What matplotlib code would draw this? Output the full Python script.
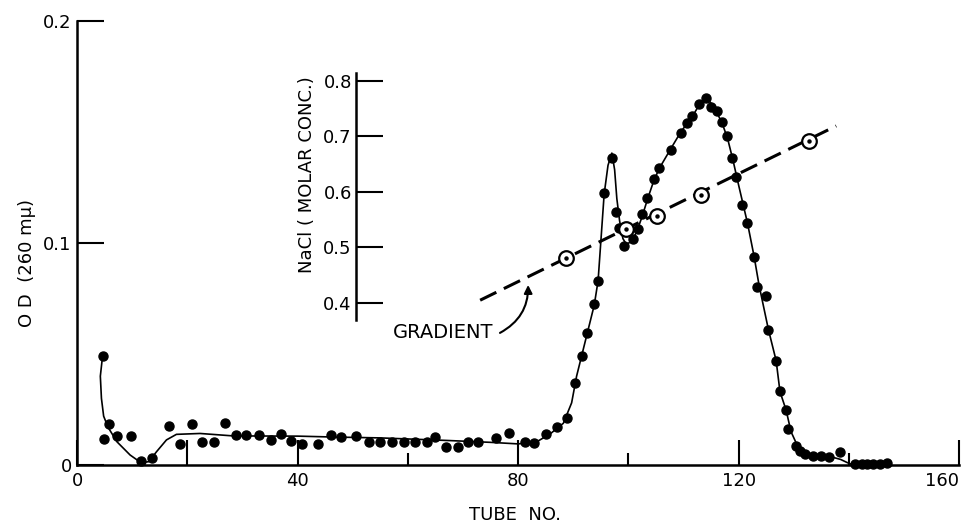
import matplotlib
matplotlib.use("Agg")
import matplotlib.pyplot as plt

plt.rcParams['font.family'] = ['DejaVu Sans']
plt.rcParams['lines.scale_dashes'] = False

# ---- data ----
tube = [4.6, 4.9, 5.8, 7.3, 9.8, 11.6, 13.6, 16.7, 18.6, 20.8, 22.7, 24.9, 26.9, 28.8,
        30.6, 33.0, 35.1, 37.0, 38.7, 40.7, 43.6, 46.0, 47.9, 50.6, 52.9, 55.0, 57.2,
        59.3, 61.3, 63.4, 65.0, 66.9, 69.0, 70.9, 72.8, 75.9, 78.4, 81.2, 82.9, 85.0,
        87.0, 88.8, 90.3, 91.5, 92.5, 93.8, 94.5, 95.6, 97.1, 97.7, 98.3, 99.2, 100.8,
        101.8, 102.4, 103.3, 104.6, 105.6, 107.7, 109.5, 110.7, 111.6, 112.8, 114.0,
        114.9, 116.0, 116.9, 117.8, 118.8, 119.6, 120.6, 121.6, 122.8, 123.4, 124.9,
        125.4, 126.8, 127.5, 128.6, 129.0, 130.4, 131.1, 132.1, 133.5, 135.0, 136.4,
        138.3, 141.1, 142.3, 143.3, 144.4, 145.6, 146.9]
od = [0.049, 0.0116, 0.0185, 0.013, 0.013, 0.0018, 0.0033, 0.0177, 0.0095, 0.0185,
      0.0105, 0.0105, 0.0188, 0.0135, 0.0135, 0.0135, 0.0113, 0.014, 0.011, 0.0095,
      0.0095, 0.0135, 0.0126, 0.013, 0.0105, 0.0105, 0.0105, 0.0105, 0.0104, 0.0104,
      0.0125, 0.008, 0.008, 0.0105, 0.0105, 0.012, 0.0143, 0.0105, 0.0098, 0.014,
      0.0173, 0.021, 0.037, 0.049, 0.0593, 0.0724, 0.0829, 0.1224, 0.1382, 0.1141,
      0.1066, 0.0988, 0.1017, 0.1063, 0.1131, 0.1201, 0.1287, 0.1336, 0.1419, 0.1497,
      0.1539, 0.1573, 0.1626, 0.1652, 0.1614, 0.1595, 0.1546, 0.1482, 0.1382, 0.1299,
      0.1171, 0.1089, 0.0938, 0.0800, 0.0761, 0.0608, 0.0468, 0.0333, 0.0248, 0.0162,
      0.0087, 0.0062, 0.0050, 0.0042, 0.0042, 0.0038, 0.0057, 0.0003, 0.0003, 0.0003,
      0.0003, 0.0005, 0.0008]

# hand-drawn smooth curve through the points
curve_tube = [4.6, 4.2, 4.4, 4.8, 5.6, 7.2, 9.6, 11.6, 13.0, 14.4, 16.2, 18.0, 22.3, 28.3,
              40.0, 46.4, 55.0, 64.5, 67.6, 75.0, 80.0, 83.4, 85.8, 88.2, 89.7, 90.6,
              91.5, 92.5, 93.8, 94.5, 95.6, 96.3, 97.0, 97.5, 97.9, 98.4, 99.0, 99.6,
              100.5, 101.5, 102.5, 103.5, 104.6, 105.6, 107.7, 109.5, 111.6, 112.8,
              114.0, 115.0, 116.0, 117.0, 118.0, 119.0, 120.0, 121.6, 122.8, 123.7,
              125.4, 126.8, 127.5, 128.6, 129.5, 130.6, 131.7, 133.5, 136.3, 138.5,
              140.2, 147.0]
curve_od = [0.049, 0.040, 0.030, 0.022, 0.017, 0.0105, 0.0045, 0.0010, 0.0015, 0.006,
            0.0113, 0.0138, 0.0142, 0.0131, 0.0130, 0.0126, 0.0122, 0.0113, 0.0110,
            0.0102, 0.0095, 0.0105, 0.0140, 0.0188, 0.028, 0.040, 0.049, 0.059, 0.072,
            0.083, 0.122, 0.135, 0.1405, 0.133, 0.120, 0.110, 0.102, 0.0995, 0.1005,
            0.105, 0.112, 0.120, 0.128, 0.1336, 0.1425, 0.150, 0.157, 0.162, 0.1655,
            0.163, 0.159, 0.154, 0.147, 0.137, 0.126, 0.109, 0.094, 0.081, 0.061, 0.047,
            0.033, 0.0248, 0.015, 0.009, 0.0060, 0.0045, 0.0040, 0.0025, 0.0005, 0.0005]

# NaCl gradient
grad_tube = [88.6, 99.5, 105.2, 113.2, 132.7]
grad_nacl = [0.481, 0.533, 0.556, 0.595, 0.692]
grad_line_tube = [73.1, 137.7]
grad_line_nacl = [0.405, 0.719]

x_major = [0, 20, 40, 80, 120, 160]
x_major_labels = ['0', '', '40', '80', '120', '160']
x_minor = [60, 100, 140]
y_ticks = [0, 0.1, 0.2]
y_labels = ['0', '0.1', '0.2']
nacl_ticks = [0.4, 0.5, 0.6, 0.7, 0.8]
nacl_labels = ['0.4', '0.5', '0.6', '0.7', '0.8']

# ---- figure ----
fig = plt.figure(figsize=(9.66, 5.25), dpi=100)
ax = fig.add_axes([0.0799, 0.1143, 0.9130, 0.8457])
ax.set_xlim(0, 160)
ax.set_ylim(0, 0.2)
for s in ['top', 'right']:
    ax.spines[s].set_visible(False)
for s in ['left', 'bottom']:
    ax.spines[s].set_linewidth(1.8)

ax.set_xticks(x_major)
ax.set_xticklabels(x_major_labels)
ax.set_xticks(x_minor, minor=True)
ax.set_yticks(y_ticks)
ax.set_yticklabels(y_labels)
ax.tick_params(axis='x', which='major', direction='in', length=18, width=1.5,
               labelsize=13, pad=5)
ax.tick_params(axis='x', which='minor', direction='in', length=9, width=1.5)
ax.tick_params(axis='y', which='major', direction='in', length=19.5, width=1.5,
               labelsize=13, pad=4)
# last x label sits just left of its tick, as in the original
ax.get_xticklabels()[-1].set_horizontalalignment('right')

ax.plot(curve_tube, curve_od, color='black', lw=1.2, zorder=2)
ax.plot(tube, od, 'o', color='black', markersize=6.5, zorder=3, clip_on=False)

ax.text(57.2, 0.0599, 'GRADIENT', fontsize=14, ha='left', va='center')
ax.annotate('', xy=(81.8, 0.0811), xytext=(76.7, 0.0595),
            arrowprops=dict(arrowstyle='-|>', connectionstyle='arc3,rad=0.3',
                            lw=1.5, color='black', mutation_scale=12,
                            shrinkA=0, shrinkB=0))

# NaCl axis (inset scale)
ax2 = ax.twinx()
ax2.set_ylim(0.1081, 0.9081)
for s in ['top', 'right', 'bottom']:
    ax2.spines[s].set_visible(False)
ax2.spines['left'].set_visible(True)
ax2.spines['left'].set_position(('data', 50.58))
ax2.spines['left'].set_bounds(0.369, 0.814)
ax2.spines['left'].set_linewidth(1.8)
ax2.yaxis.tick_left()
ax2.set_yticks(nacl_ticks)
ax2.set_yticklabels(nacl_labels)
ax2.tick_params(axis='y', direction='in', length=19.5, width=1.5, labelsize=13, pad=3)

ax2.plot(grad_line_tube, grad_line_nacl, color='black', lw=2.2,
         dashes=(13, 6), dash_capstyle='butt', zorder=2)
ax2.plot(grad_tube, grad_nacl, 'o', markersize=10.5, markerfacecolor='white',
         markeredgecolor='black', markeredgewidth=1.6, zorder=4)
ax2.plot(grad_tube, grad_nacl, 'o', markersize=2.2, color='black', zorder=5)

fig.text(0.318, 0.667, 'NaCl ( MOLAR CONC.)', rotation=90, fontsize=13,
         ha='center', va='center')
fig.text(0.028, 0.499, 'O D  (260 m\u03bc)', rotation=90, fontsize=13,
         ha='center', va='center')
fig.text(0.533, 0.02, 'TUBE  NO.', fontsize=13, ha='center', va='center')

fig.savefig('out.png', dpi=100)
